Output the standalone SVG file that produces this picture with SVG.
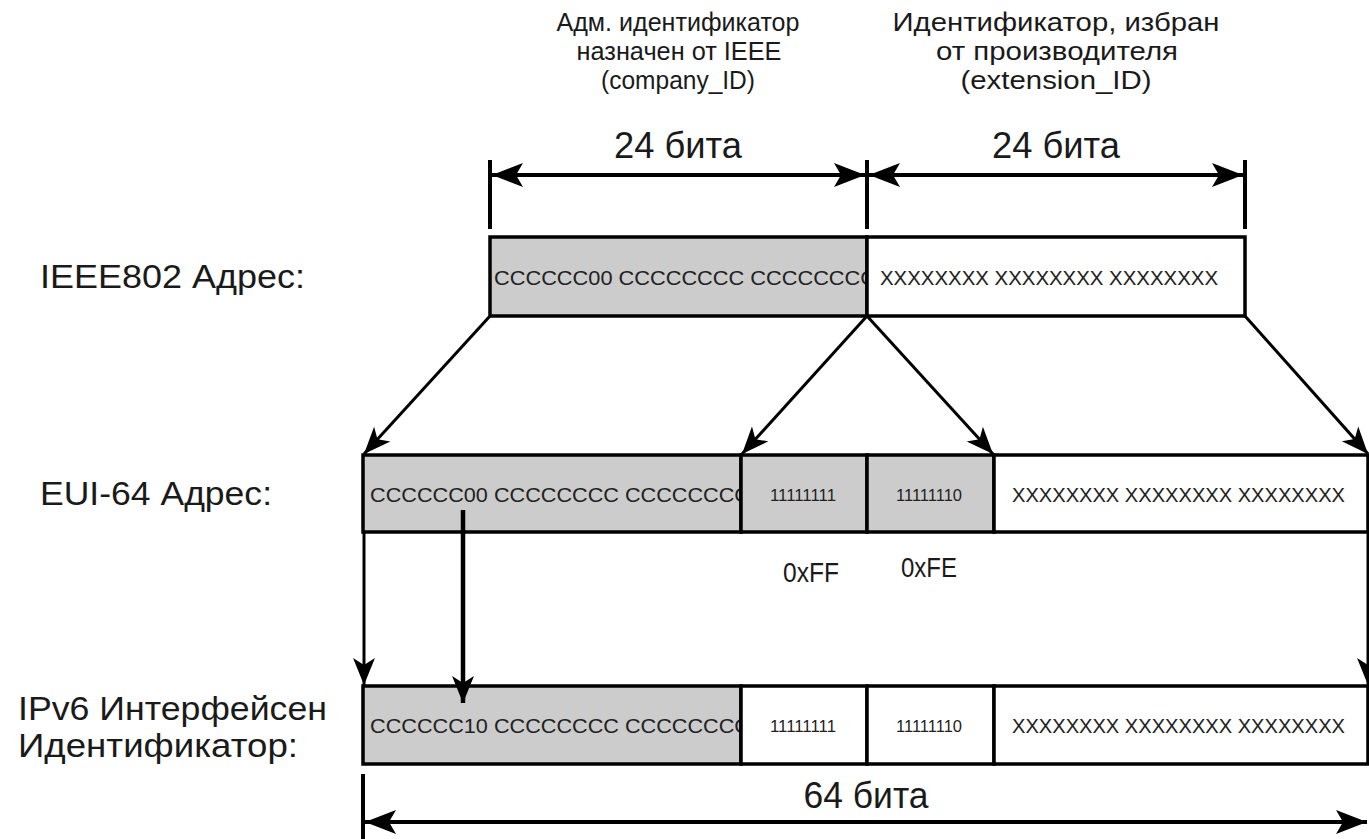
<svg xmlns="http://www.w3.org/2000/svg" width="1369" height="839" viewBox="0 0 1369 839">
<style>
.lbl{font-family:"Liberation Sans",Arial,sans-serif;font-size:33px;fill:#1a1a1a}
.cap{font-family:"Liberation Sans",Arial,sans-serif;font-size:26px;fill:#1a1a1a;text-anchor:middle}
.dim{font-family:"Liberation Sans",Arial,sans-serif;font-size:36px;fill:#1a1a1a;text-anchor:middle}
.cell{font-family:"Liberation Sans",Arial,sans-serif;font-size:21px;fill:#222}
.xcell{font-family:"Liberation Sans",Arial,sans-serif;font-size:20px;fill:#222}
.bits{font-family:"Liberation Sans",Arial,sans-serif;font-size:17px;fill:#222;text-anchor:middle}
.hex{font-family:"Liberation Sans",Arial,sans-serif;font-size:27px;fill:#1a1a1a;text-anchor:middle}
.g{fill:#cccccc;stroke:#000;stroke-width:3.5}
.w{fill:#ffffff;stroke:#000;stroke-width:3.5}
.con{stroke:#000;stroke-width:3;fill:none}
.dl{stroke:#000;stroke-width:4;fill:none}
.tick{stroke:#000;stroke-width:4}
</style>
<defs>
<marker id="ah" markerUnits="userSpaceOnUse" markerWidth="34" markerHeight="28" viewBox="-30 -14 34 28" refX="0" refY="0" orient="auto">
<path d="M0,0 L-27,-11 L-20,0 L-27,11 Z" fill="#000"/>
</marker>
<marker id="dh" markerUnits="userSpaceOnUse" markerWidth="38" markerHeight="30" viewBox="-34 -15 38 30" refX="0" refY="0" orient="auto-start-reverse">
<path d="M0,0 L-31,-12 L-24,0 L-31,12 Z" fill="#000"/>
</marker>
</defs>
<rect width="1369" height="839" fill="#fff"/>

<g id="header-company">
<text class="cap" x="678" y="31" textLength="243" lengthAdjust="spacingAndGlyphs">Адм. идентификатор</text>
<text class="cap" x="679" y="60" textLength="205" lengthAdjust="spacingAndGlyphs">назначен от IEEE</text>
<text class="cap" x="678" y="89" textLength="154" lengthAdjust="spacingAndGlyphs">(company_ID)</text>
</g>
<g id="header-extension">
<text class="cap" x="1056" y="31" textLength="327" lengthAdjust="spacingAndGlyphs">Идентификатор, избран</text>
<text class="cap" x="1057" y="60" textLength="242" lengthAdjust="spacingAndGlyphs">от производителя</text>
<text class="cap" x="1056" y="89" textLength="191" lengthAdjust="spacingAndGlyphs">(extension_ID)</text>
</g>

<g id="dim-top">
<text class="dim" x="678" y="158" textLength="128" lengthAdjust="spacingAndGlyphs">24 бита</text>
<text class="dim" x="1056" y="158" textLength="128" lengthAdjust="spacingAndGlyphs">24 бита</text>
<line class="tick" x1="490" y1="160" x2="490" y2="229"/>
<line class="tick" x1="867" y1="160" x2="867" y2="229"/>
<line class="tick" x1="1245" y1="160" x2="1245" y2="229"/>
<line class="dl" x1="492" y1="175" x2="865" y2="175" marker-start="url(#dh)" marker-end="url(#dh)"/>
<line class="dl" x1="869" y1="175" x2="1243" y2="175" marker-start="url(#dh)" marker-end="url(#dh)"/>
</g>

<g id="label-ieee"><text class="lbl" x="40" y="288" textLength="265" lengthAdjust="spacingAndGlyphs">IEEE802 Адрес:</text></g>
<g id="label-eui"><text class="lbl" x="40" y="505" textLength="232" lengthAdjust="spacingAndGlyphs">EUI-64 Адрес:</text></g>
<g id="label-ipv6">
<text class="lbl" x="18" y="720" textLength="309" lengthAdjust="spacingAndGlyphs">IPv6 Интерфейсен</text>
<text class="lbl" x="18" y="757" textLength="280" lengthAdjust="spacingAndGlyphs">Идентификатор:</text>
</g>

<g id="row-ieee">
<rect class="g" x="490" y="237" width="377" height="79"/>
<text class="cell" x="494" y="285" textLength="382" lengthAdjust="spacingAndGlyphs">CCCCCC00 CCCCCCCC CCCCCCCC</text>
<rect class="w" x="867" y="237" width="378" height="79"/>
<text class="xcell" x="880" y="285" textLength="338" lengthAdjust="spacingAndGlyphs">XXXXXXXX XXXXXXXX XXXXXXXX</text>
</g>

<g id="row-eui">
<rect class="g" x="363" y="455" width="378" height="77"/>
<text class="cell" x="370" y="502" textLength="380" lengthAdjust="spacingAndGlyphs">CCCCCC00 CCCCCCCC CCCCCCCC</text>
<rect class="g" x="741" y="455" width="126" height="77"/>
<text class="bits" x="803" y="501" textLength="66" lengthAdjust="spacingAndGlyphs">11111111</text>
<rect class="g" x="867" y="455" width="127" height="77"/>
<text class="bits" x="929" y="501" textLength="66" lengthAdjust="spacingAndGlyphs">11111110</text>
<rect class="w" x="994" y="455" width="374" height="77"/>
<text class="xcell" x="1012" y="502" textLength="333" lengthAdjust="spacingAndGlyphs">XXXXXXXX XXXXXXXX XXXXXXXX</text>
<text class="hex" x="811" y="582" textLength="56" lengthAdjust="spacingAndGlyphs">0xFF</text>
<text class="hex" x="929" y="577" textLength="56" lengthAdjust="spacingAndGlyphs">0xFE</text>
</g>

<g id="row-ipv6">
<rect class="g" x="363" y="686" width="378" height="78"/>
<text class="cell" x="370" y="733" textLength="380" lengthAdjust="spacingAndGlyphs">CCCCCC10 CCCCCCCC CCCCCCCC</text>
<rect class="w" x="741" y="686" width="126" height="78"/>
<text class="bits" x="803" y="732" textLength="66" lengthAdjust="spacingAndGlyphs">11111111</text>
<rect class="w" x="867" y="686" width="127" height="78"/>
<text class="bits" x="929" y="732" textLength="66" lengthAdjust="spacingAndGlyphs">11111110</text>
<rect class="w" x="994" y="686" width="374" height="78"/>
<text class="xcell" x="1012" y="733" textLength="333" lengthAdjust="spacingAndGlyphs">XXXXXXXX XXXXXXXX XXXXXXXX</text>
</g>

<g id="connectors">
<line class="con" x1="490" y1="316" x2="364" y2="454" marker-end="url(#ah)"/>
<line class="con" x1="867" y1="316" x2="742" y2="454" marker-end="url(#ah)"/>
<line class="con" x1="867" y1="316" x2="993" y2="454" marker-end="url(#ah)"/>
<line class="con" x1="1245" y1="316" x2="1368" y2="454" marker-end="url(#ah)"/>
<line class="con" x1="364" y1="532" x2="364" y2="685" marker-end="url(#ah)"/>
<line class="con" x1="1368" y1="532" x2="1368" y2="685" marker-end="url(#ah)"/>
<line stroke="#000" stroke-width="4.5" x1="463" y1="510" x2="463" y2="703" marker-end="url(#ah)"/>
</g>

<g id="dim-bottom">
<text class="dim" x="866" y="808" textLength="125" lengthAdjust="spacingAndGlyphs">64 бита</text>
<line class="tick" x1="363" y1="774" x2="363" y2="839"/>
<line class="dl" x1="365" y1="822" x2="1367" y2="822" marker-start="url(#dh)" marker-end="url(#dh)"/>
</g>
</svg>
